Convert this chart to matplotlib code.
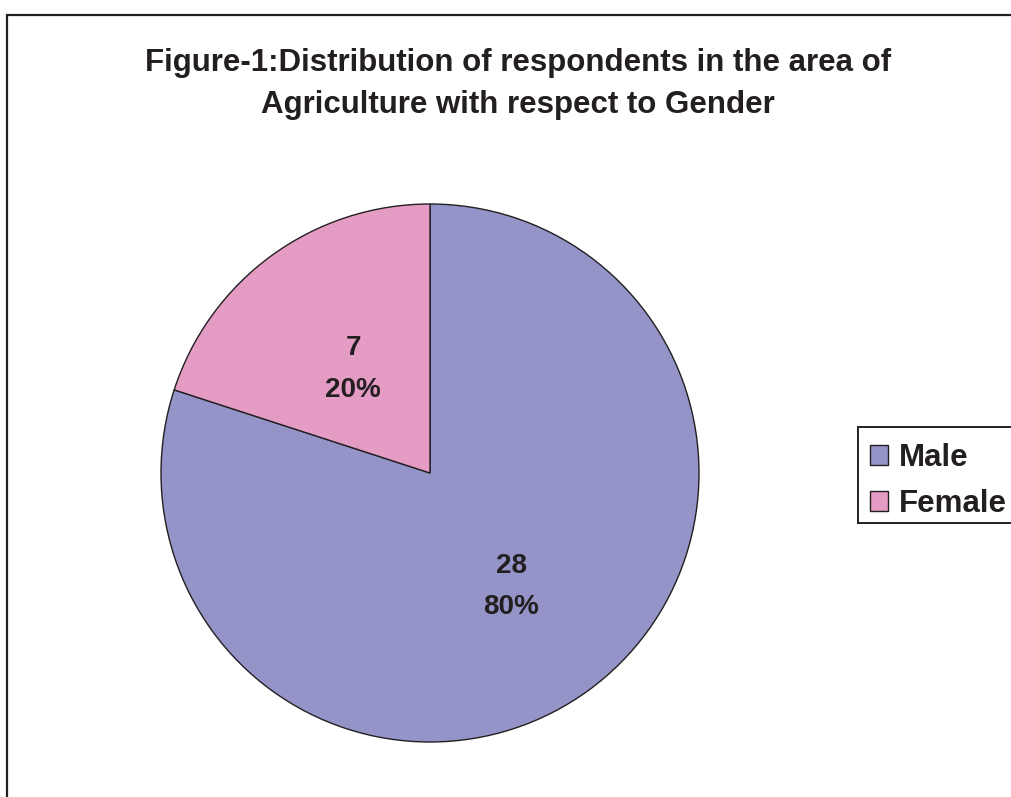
import matplotlib.pyplot as plt
from matplotlib.patches import Rectangle

plt.rcParams['font.family'] = ['Liberation Sans', 'DejaVu Sans']

# data
labels = ['Male', 'Female']
counts = [28, 7]
colors = ['#9494C9', '#E59CC4']
title = 'Figure-1:Distribution of respondents in the area of\nAgriculture with respect to Gender'

W, H = 1012, 797
fig = plt.figure(figsize=(W / 100, H / 100), dpi=100)

# outer frame (runs off right and bottom edge)
fig.patches.append(Rectangle((7 / W, -0.05), 1.1, 1 - 15 / H + 0.05,
                             transform=fig.transFigure, fill=False,
                             edgecolor='#231F20', linewidth=1.6))

cx, cy, r = 430, 473, 269
ax = fig.add_axes([(cx - r) / W, (H - cy - r) / H, 2 * r / W, 2 * r / H])

total = sum(counts)
wedges, texts, autotexts = ax.pie(
    counts, colors=colors, startangle=90, counterclock=False,
    autopct=lambda p: f'{round(p * total / 100)}\n{p:.0f}%',
    pctdistance=0.5, radius=1,
    wedgeprops=dict(edgecolor='#231F20', linewidth=1.0),
    textprops=dict(fontsize=20, fontweight='bold', color='#231F20', linespacing=1.76))
# nudge labels slightly right/down to sit like the original
for t in autotexts:
    x, y = t.get_position()
    t.set_position((x + 0.009, y - 0.018))
ax.set_xlim(-1, 1)
ax.set_ylim(-1, 1)
ax.set_aspect('equal')

fig.text(518 / W, 1 - 84 / H, title, ha='center', va='center',
         fontsize=22.5, fontweight='bold', color='#231F20', linespacing=1.55)

# legend box drawn by hand, entries placed inside it
fig.patches.append(Rectangle((858 / W, 1 - 523 / H), 0.2, 96 / H,
                             transform=fig.transFigure, facecolor='white',
                             edgecolor='#231F20', linewidth=1.4))
leg = fig.legend(wedges, labels, loc='upper left', bbox_to_anchor=(858 / W, 1 - 431 / H),
                 borderaxespad=0, frameon=False,
                 handlelength=0.58, handleheight=0.58,
                 handletextpad=0.35, borderpad=0.38, labelspacing=0.52,
                 prop=dict(size=22.5, weight='bold'))
for t in leg.get_texts():
    t.set_color('#231F20')

fig.savefig('out.png', dpi=100)
